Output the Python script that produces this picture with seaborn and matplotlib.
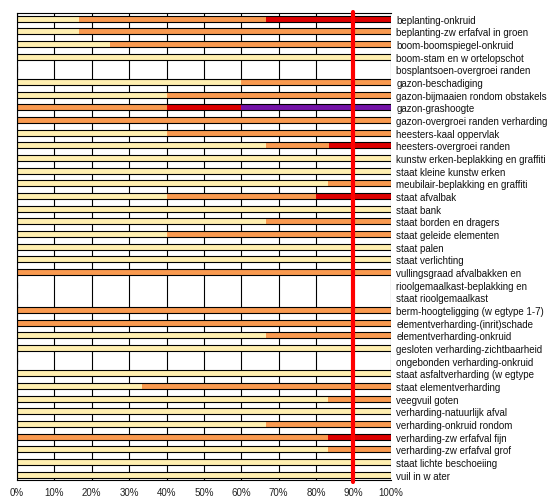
import pandas as pd
import seaborn as sns
import matplotlib.pyplot as plt

# categorieen (van boven naar beneden)
categories = [
    'beplanting-onkruid', 'beplanting-zw erfafval in groen', 'boom-boomspiegel-onkruid',
    'boom-stam en w ortelopschot', 'bosplantsoen-overgroei randen', 'gazon-beschadiging',
    'gazon-bijmaaien rondom obstakels', 'gazon-grashoogte', 'gazon-overgroei randen verharding',
    'heesters-kaal oppervlak', 'heesters-overgroei randen', 'kunstw erken-beplakking en graffiti',
    'staat kleine kunstw erken', 'meubilair-beplakking en graffiti', 'staat afvalbak',
    'staat bank', 'staat borden en dragers', 'staat geleide elementen', 'staat palen',
    'staat verlichting', 'vullingsgraad afvalbakken en', 'rioolgemaalkast-beplakking en',
    'staat rioolgemaalkast', 'berm-hoogteligging (w egtype 1-7)', 'elementverharding-(inrit)schade',
    'elementverharding-onkruid', 'gesloten verharding-zichtbaarheid', 'ongebonden verharding-onkruid',
    'staat asfaltverharding (w egtype', 'staat elementverharding', 'veegvuil goten',
    'verharding-natuurlijk afval', 'verharding-onkruid rondom', 'verharding-zw erfafval fijn',
    'verharding-zw erfafval grof', 'staat lichte beschoeiing', 'vuil in w ater',
]

# percentages per kleur
geel = [16.7, 16.7, 25, 100, 0, 60, 40, 0, 0, 40, 66.7, 100, 100, 83.3, 40,
        100, 66.7, 40, 100, 100, 0, 0, 0, 0, 0, 66.7, 100, 0, 100, 33.3, 83.3,
        100, 66.7, 0, 83.3, 100, 100]
oranje = [50, 83.3, 75, 0, 0, 40, 60, 40, 100, 60, 16.7, 0, 0, 16.7, 40,
          0, 33.3, 60, 0, 0, 100, 0, 0, 100, 100, 33.3, 0, 0, 0, 66.7, 16.7,
          0, 33.3, 83.3, 16.7, 0, 0]
rood = [33.3, 0, 0, 0, 0, 0, 0, 20, 0, 0, 16.7, 0, 0, 0, 20,
        0, 0, 0, 0, 0, 0, 0, 0, 0, 0, 0, 0, 0, 0, 0, 0,
        0, 0, 16.7, 0, 0, 0]
paars = [0, 0, 0, 0, 0, 0, 0, 40, 0, 0, 0, 0, 0, 0, 0,
         0, 0, 0, 0, 0, 0, 0, 0, 0, 0, 0, 0, 0, 0, 0, 0,
         0, 0, 0, 0, 0, 0]

df = pd.DataFrame({'cat': categories, 'geel': geel, 'oranje': oranje,
                   'rood': rood, 'paars': paars})
df['c1'] = df['geel']
df['c2'] = df['c1'] + df['oranje']
df['c3'] = df['c2'] + df['rood']
df['c4'] = df['c3'] + df['paars']

sns.set_style('white')
plt.rcParams['font.family'] = ['Liberation Sans', 'DejaVu Sans']

fig = plt.figure(figsize=(5.58, 5.02), dpi=100)
ax = fig.add_axes([0.0305, 0.042, 0.670, 0.930])

bh = 0.48
# gestapelde balken: eerst totaal, dan steeds korter
for col, kleur in [('c4', '#7414A8'), ('c3', '#DD0000'), ('c2', '#F99A50'), ('c1', '#FFEFB0')]:
    sns.barplot(data=df, x=col, y='cat', order=categories, orient='h', color=kleur,
                saturation=1, width=bh, linewidth=0, errorbar=None, ax=ax)
# zwarte rand om de balk
sns.barplot(data=df, x='c4', y='cat', order=categories, orient='h', fill=False,
            edgecolor='black', width=bh, linewidth=0.8, errorbar=None, ax=ax)

ax.axvline(90, color='#FF0000', lw=3, ymin=-0.004, ymax=1.003, clip_on=False, zorder=5)

n = len(categories)
ax.set_xlim(0, 100)
ax.set_ylim(n - 1 + 0.42, -0.45)
ax.set_xticks(range(0, 101, 10))
ax.set_xticklabels([f'{v}%' for v in range(0, 101, 10)])
ax.grid(axis='x', color='black', lw=0.8)
ax.set_axisbelow(True)
ax.yaxis.tick_right()
ax.tick_params(axis='y', length=0, pad=4, labelsize=7, labelcolor='#111111')
ax.tick_params(axis='x', length=0, pad=5, labelsize=7, labelcolor='#222222')
ax.set_xlabel('')
ax.set_ylabel('')
for s in ['left', 'top', 'bottom']:
    ax.spines[s].set_color('black')
    ax.spines[s].set_linewidth(0.8)
ax.spines['right'].set_visible(False)

fig.savefig('out.png', dpi=100)
